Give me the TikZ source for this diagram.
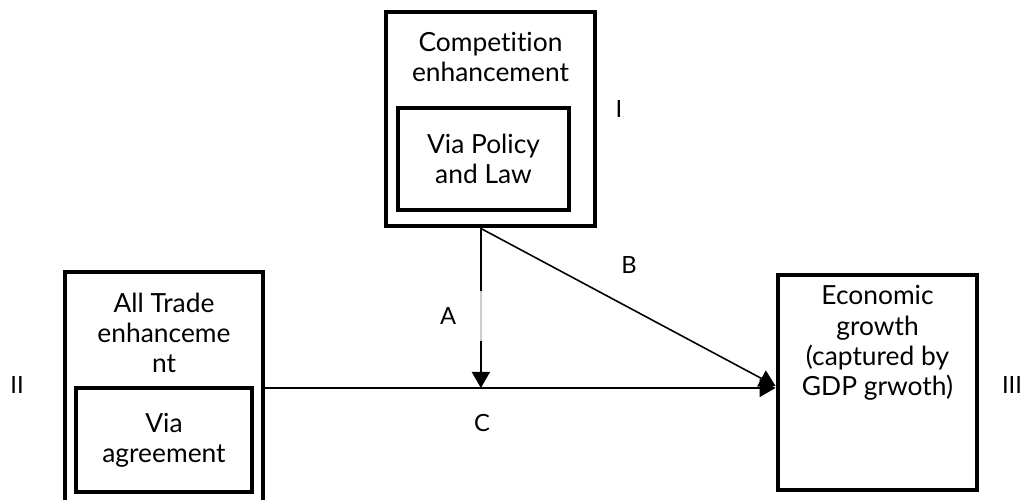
\documentclass[tikz,border=0pt]{standalone}
\usepackage{fontspec}
\setmainfont{Lato}[RawFeature={-liga}]
\usetikzlibrary{positioning,arrows.meta,calc}
\tikzset{
  flow/.style={-{Triangle[length=3.2mm,width=3.6mm]},line width=0.9pt,draw=black},
  outerbox/.style={draw=black,line width=2.8pt,fill=white,inner sep=0pt},
  innerbox/.style={draw=black,line width=2.8pt,inner sep=0pt},
  boxtext/.style={align=center,font=\fontsize{15}{17.2}\selectfont},
  lbl/.style={font=\fontsize{13.5}{15}\selectfont,inner sep=1pt}
}

\begin{document}
\begin{tikzpicture}[x=1cm,y=1cm]
  \useasboundingbox (0,0) rectangle (20.5,10);
  % boxes
  \node[outerbox,minimum width=4.18cm,minimum height=4.28cm] (comp) at (9.81,7.62) {};
  \node[innerbox,minimum width=3.42cm,minimum height=2.04cm] (law) at (9.67,6.82) {};
  \node[outerbox,minimum width=3.96cm,minimum height=4.66cm] (trade) at (3.28,2.23) {};
  \node[innerbox,minimum width=3.52cm,minimum height=2.08cm] (agree) at (3.28,1.2) {};
  \node[outerbox,minimum width=3.98cm,minimum height=4.3cm] (growth) at (17.55,2.35) {};
  % texts
  \node[boxtext] (comptxt) at (9.81,8.86) {Competition\\enhancement};
  \node[boxtext] (lawtxt) at (law) {Via Policy\\and Law};
  \node[boxtext] (tradetxt) at (3.28,3.34) {All Trade\\enhanceme\\nt};
  \node[boxtext] (agreetxt) at (agree) {Via\\agreement};
  \node[boxtext] (growthtxt) at (17.55,3.14) {Economic\\growth\\(captured by\\GDP grwoth)};
  % connectors
  \coordinate (top) at ($(comp.south west)!0.455!(comp.south east)$);
  \coordinate (meet) at (top |- 0,2.24);
  \draw[flow] (trade.east |- meet) -- (growth.west |- meet);
  \draw[flow] (top) -- (growth.west |- 0,2.28);
  \draw[flow] (top) -- (meet);
  % labels
  \node[lbl,fill=white,fill opacity=.8,text opacity=1,inner sep=0pt,
    minimum height=1cm,text width=0.9cm,align=left] (A) at (9.25,3.68) {A};
  \node[lbl] (B) at (12.58,4.7) {B};
  \node[lbl] (C) at (9.64,1.54) {C};
  \node[lbl] (I) at (12.38,7.82) {I};
  \node[lbl] (II) at (0.34,2.3) {II};
  \node[lbl] (III) at (20.24,2.3) {III};
\end{tikzpicture}
\end{document}
